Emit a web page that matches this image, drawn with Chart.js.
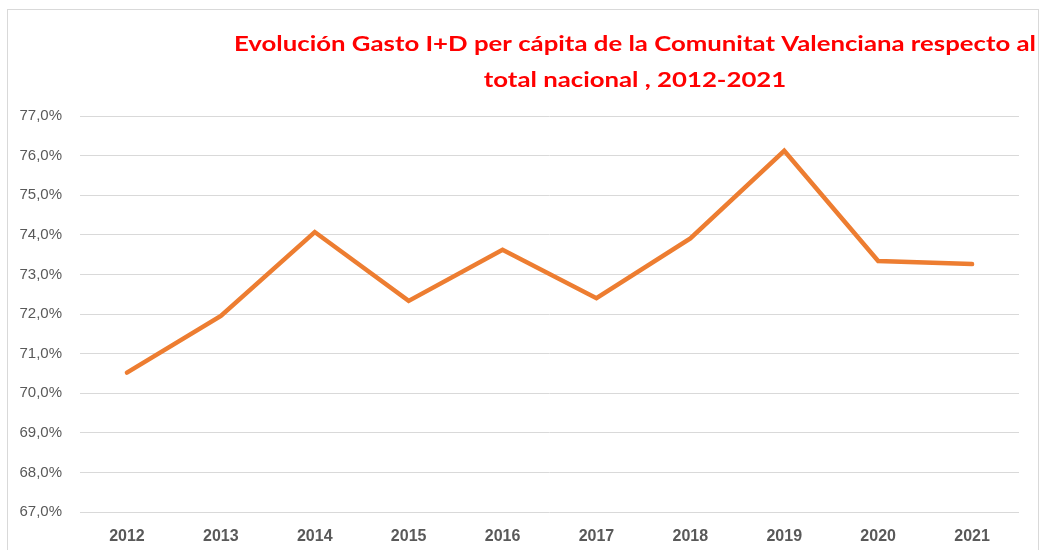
<!DOCTYPE html>
<html>
<head>
<meta charset="utf-8">
<script src="https://cdn.jsdelivr.net/npm/chart.js@4.4.1/dist/chart.umd.min.js"></script>
<style>
  html, body { margin:0; padding:0; background:#fff; }
  #wrap { position:relative; width:1043px; height:550px; overflow:hidden; }
  #frame { position:absolute; left:7px; top:9px; width:1032px; height:600px; border:1px solid #d9d9d9; box-sizing:border-box; }
  canvas { position:absolute; left:0; top:0; }
</style>
</head>
<body>
<div id="wrap">
  <div id="frame"></div>
  <canvas id="c" width="1043" height="550"></canvas>
</div>
<script>
const categories = ["2012","2013","2014","2015","2016","2017","2018","2019","2020","2021"];
const seriesValues = [70.52, 71.95, 74.07, 72.33, 73.62, 72.40, 73.91, 76.12, 73.34, 73.26];
const titleLines = ["Evolución Gasto I+D per cápita de la Comunitat Valenciana respecto al", "total nacional , 2012-2021"];
const yMin = 67, yMax = 77, yStep = 1;

const titlePlugin = {
  id: 'customTitle',
  afterDraw(chart) {
    const ctx = chart.ctx;
    ctx.save();
    ctx.fillStyle = '#ff0000';
    ctx.font = 'bold 21px Lato, "Liberation Sans", sans-serif';
    ctx.textBaseline = 'alphabetic';
    ctx.textAlign = 'center';
    const w1 = ctx.measureText(titleLines[0]).width;
    const sx = 802 / w1;
    const cx = 635;
    const baselines = [51, 87];
    titleLines.forEach((t, i) => {
      ctx.save();
      ctx.translate(cx, baselines[i]);
      ctx.scale(sx, 1);
      ctx.fillText(t, 0, 0);
      ctx.restore();
    });
    ctx.restore();
  }
};

new Chart(document.getElementById('c'), {
  type: 'line',
  data: {
    labels: categories,
    datasets: [{
      data: seriesValues,
      borderColor: '#ED7D31',
      backgroundColor: '#ED7D31',
      borderWidth: 4.5,
      pointRadius: 0,
      pointHoverRadius: 0,
      tension: 0,
      fill: false,
      borderCapStyle: 'round',
      borderJoinStyle: 'miter'
    }]
  },
  options: {
    responsive: false,
    animation: false,
    devicePixelRatio: 1,
    layout: { padding: { top: 116, right: 24, bottom: 0, left: 0 } },
    plugins: {
      legend: { display: false },
      title: { display: false },
      tooltip: { enabled: false }
    },
    scales: {
      x: {
        offset: true,
        grid: { display: false, drawTicks: false },
        border: { display: false },
        ticks: {
          color: '#595959',
          font: { family: '"Liberation Sans", Arial, sans-serif', size: 16, weight: 'bold' },
          padding: 15,
          maxRotation: 0
        },
        afterFit(s) { s.height = 38; }
      },
      y: {
        min: yMin,
        max: yMax,
        grid: { color: '#d9d9d9', lineWidth: 1, drawTicks: false },
        border: { display: false },
        ticks: {
          stepSize: yStep,
          color: '#595959',
          font: { family: '"Liberation Sans", Arial, sans-serif', size: 15 },
          padding: 18,
          callback: v => v.toFixed(1).replace('.', ',') + '%'
        },
        afterFit(s) { s.width = 80; }
      }
    }
  },
  plugins: [titlePlugin]
});
</script>
</body>
</html>
